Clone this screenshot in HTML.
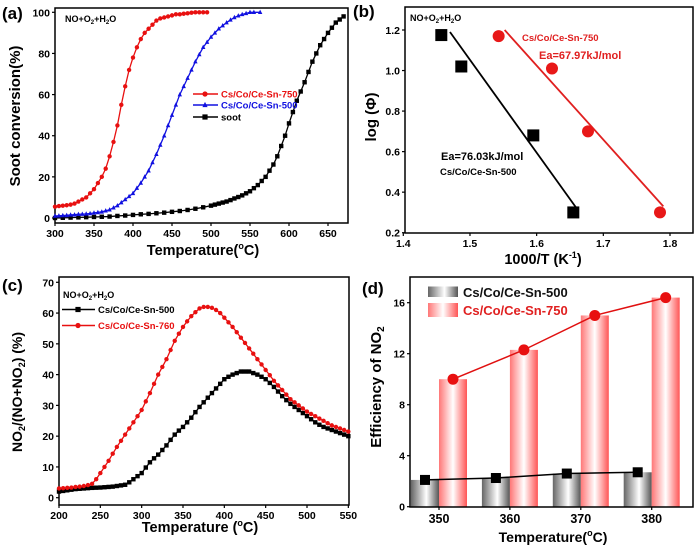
<!DOCTYPE html>
<html><head><meta charset="utf-8"><style>
html,body{margin:0;padding:0;background:#fff;}
svg{display:block;font-family:"Liberation Sans",Arial,sans-serif;font-weight:bold;}
</style></head><body>
<svg id="fig" width="700" height="549" viewBox="0 0 700 549" xmlns="http://www.w3.org/2000/svg">
<defs>
<linearGradient id="gGrey" x1="0" x2="1" y1="0" y2="0">
<stop offset="0" stop-color="#666"/><stop offset="0.55" stop-color="#fff"/><stop offset="1" stop-color="#555"/></linearGradient>
<linearGradient id="gRed" x1="0" x2="1" y1="0" y2="0">
<stop offset="0" stop-color="#f77"/><stop offset="0.5" stop-color="#fff"/><stop offset="1" stop-color="#f55"/></linearGradient>
</defs>
</svg>
<script>
// ---- Panel (a) data ----
const aRedT=[300,305,310,315,320,325,330,335,340,345,350,355,360,365,370,375,380,385,390,395,400,405,410,415,420,425,430,435,440,445,450,455,460,465,470,475,480,485,490,495];
const aRedV=[5.5,5.8,6,6.2,6.5,7,8,9,10,12,14,17,20,24,30,37,45,55,64,72,78,83,87,90,92,94,96,97,97.5,98,98.5,99,99,99.3,99.5,99.8,100,100,100,100];
const aBlueT=[300,305,310,315,320,325,330,335,340,345,350,355,360,365,370,375,380,385,390,395,400,405,410,415,420,425,430,435,440,445,450,455,460,465,470,475,480,485,490,495,500,505,510,515,520,525,530,535,540,545,550,555,563];
const aBlueV=[1,1.1,1.2,1.3,1.5,1.6,1.8,1.9,2,2.2,2.5,2.7,3,3.5,4,5,6,7.5,9,10.5,12,14.5,17,20,23,27,31,35.5,40,45,50,55,60,64,68,72,76,79.5,83,85.5,88,90,92,93.5,95,96.3,97.5,98.3,99,99.5,100,100,100];
const aSootT=[300,310,320,330,340,350,360,370,380,390,400,410,420,430,440,450,460,470,480,490,500,505,510,515,520,525,530,535,540,545,550,555,560,565,570,575,580,585,590,595,600,605,610,615,620,625,630,635,640,645,650,655,660,665,670];
const aSootV=[0,0.1,0.2,0.3,0.4,0.5,0.6,0.7,1,1.2,1.5,1.8,2,2.3,2.6,3,3.4,3.9,4.5,5.2,6,6.5,7,7.5,8,8.7,9.5,10.2,11,12,13,14.5,16,18,20,23,26,30,35,40,46,51.5,57,61.5,66,71,76,80,84,87,90,92.5,95,96.5,98];
const aXTicks=[300,350,400,450,500,550,600,650];
const aYTicks=[0,20,40,60,80,100];
// ---- Panel (b) data ----
const b500X=[1.457,1.487,1.595,1.655];
const b500Y=[1.175,1.02,0.68,0.30];
const b750X=[1.543,1.623,1.677,1.785];
const b750Y=[1.17,1.01,0.70,0.30];
const b500Fit=[[1.47,1.19],[1.66,0.32]];
const b750Fit=[[1.552,1.2],[1.79,0.33]];
const bXTicks=[1.4,1.5,1.6,1.7,1.8];
const bYTicks=[0.2,0.4,0.6,0.8,1.0,1.2];
// ---- Panel (c) data ----
const cT=[200,205,210,215,220,225,230,235,240,245,250,255,260,265,270,275,280,285,290,295,300,305,310,315,320,325,330,335,340,345,350,355,360,365,370,375,380,385,390,395,400,405,410,415,420,425,430,435,440,445,450,455,460,465,470,475,480,485,490,495,500,505,510,515,520,525,530,535,540,545,550];
const c500=[2,2.2,2.4,2.6,2.8,2.9,3,3.1,3.2,3.25,3.3,3.4,3.5,3.6,3.8,4,4.2,5,6,7,8,9.8,11.5,12.8,14,15.5,17,18.8,20.5,21.8,23,24.5,26,27.8,29.5,31,32.5,34,35.5,37,38.5,39.3,40,40.5,41,41,41,40.5,40,39.3,38.5,37.3,36,34.5,33,31.7,30.5,29.5,28.5,27.5,26.5,25.5,24.5,23.7,23,22.5,22,21.5,21,20.5,20];
const c750=[3,3.1,3.2,3.3,3.5,3.6,3.8,4.1,4.5,6,8,10,12,14.3,16.5,18.5,20.5,22.5,24.5,26.5,28.5,31.3,34,37,40,42.5,45,48,51,53.3,55.5,57.3,59,60.3,61.5,62,62,61.7,61,60,58.5,57,55.5,53.8,52,50.3,48.5,46.8,45,43.3,41.5,39.8,38,36.5,35,33.5,32,31,30,29,28,27.2,26.5,25.7,25,24.2,23.5,23,22.5,22,21.5];
const cXTicks=[200,250,300,350,400,450,500,550];
const cYTicks=[0,10,20,30,40,50,60,70];
// ---- Panel (d) data ----
const dCats=[350,360,370,380];
const d500=[2.1,2.25,2.6,2.7];
const d750=[10,12.3,15,16.4];
const dYTicks=[0,4,8,12,16];

const NS="http://www.w3.org/2000/svg";
const svg=document.getElementById('fig');
function mk(tag,attrs,parent,text){const e=document.createElementNS(NS,tag);for(const k in attrs)e.setAttribute(k,attrs[k]);if(text!==undefined)e.textContent=text;(parent||svg).appendChild(e);return e;}
function lin(d0,d1,r0,r1){return v=>r0+(v-d0)*(r1-r0)/(d1-d0);}

function frame(g,L,T,R,B){
  const f=mk('rect',{x:L,y:T,width:R-L,height:B-T,fill:'none',stroke:'#000','stroke-width':1.5},g);
  
  
}
function xTicks(g,ticks,sx,B,fmt){
  ticks.forEach(t=>{
    mk('line',{x1:sx(t),x2:sx(t),y1:B,y2:B+3,stroke:'#000','stroke-width':1.2},g);
    const tx=mk('text',{x:sx(t),y:B+14,'font-size':10.5,'text-anchor':'middle'},g,fmt?fmt(t):t);
    
    
  });
}
function yTicks(g,ticks,sy,L,fmt){
  ticks.forEach(t=>{
    mk('line',{x1:L-3,x2:L,y1:sy(t),y2:sy(t),stroke:'#000','stroke-width':1.2},g);
    const tx=mk('text',{x:L-5,y:sy(t)+4,'font-size':10.5,'text-anchor':'end'},g,fmt?fmt(t):t);
    
    
  });
}
function polyline(g,xs,ys,sx,sy,color,w){
  const pts=xs.map((x,i)=>sx(x)+','+sy(ys[i])).join(' ');
  return mk('polyline',{points:pts,fill:'none',stroke:color,'stroke-width':w||1.3},g);
}
function marker(g,type,x,y,color,s){
  let m;
  if(type==='circle') m=mk('circle',{cx:x,cy:y,r:s,fill:color},g);
  else if(type==='square') m=mk('rect',{x:x-s,y:y-s,width:2*s,height:2*s,fill:color},g);
  else m=mk('polygon',{points:`${x},${y-s*1.2} ${x-s},${y+s*0.8} ${x+s},${y+s*0.8}`,fill:color},g);
  return m;
}
function rotTitle(g,x,y,txt,size){
  return mk('text',{x:x,y:y,'font-size':size,'text-anchor':'middle',transform:`rotate(-90 ${x} ${y})`},g,txt);
}

// ===== Panel A =====
(function(){
  const g=mk('g',{});
  
  
  const L=55,R=348,T=8,B=223;
  const sx=lin(300,650,55,328), sy=lin(0,100,218,12.3);
  frame(g,L,T,R,B);
  xTicks(g,aXTicks,sx,B); yTicks(g,aYTicks,sy,L);
  const ser=[[aSootT,aSootV,'#000','square','soot-series'],[aBlueT,aBlueV,'#1010e0','tri','cs-co-ce-sn-500-series'],[aRedT,aRedV,'#e81010','circle','cs-co-ce-sn-750-series']];
  ser.forEach(s=>{
    const sg=mk('g',{},g);
    
    
    polyline(sg,s[0],s[1],sx,sy,s[2],1.3);
    s[0].forEach((t,i)=>marker(sg,s[3],sx(t),sy(s[1][i]),s[2],2.2));
  });
  const lt=mk('text',{x:65,y:22,'font-size':9},g);
  lt.innerHTML='NO+O<tspan font-size="6" dy="2">2</tspan><tspan dy="-2">+H</tspan><tspan font-size="6" dy="2">2</tspan><tspan dy="-2">O</tspan>';
  
  
  const leg=[['Cs/Co/Ce-Sn-750','#e81010','circle',94],['Cs/Co/Ce-Sn-500','#1010e0','tri',105],['soot','#000','square',117]];
  leg.forEach(l=>{
    const lg=mk('g',{},g);
    
    
    mk('line',{x1:193,x2:218,y1:l[3],y2:l[3],stroke:l[1],'stroke-width':1.5},lg);
    marker(lg,l[2],205,l[3],l[1],2.6);
    mk('text',{x:221,y:l[3]+3.5,'font-size':9.5,fill:l[1]},lg,l[0]);
  });
  const yt=rotTitle(g,20,116,'Soot conversion(%)',15);
  
  
  const xt=mk('text',{x:203,y:255,'font-size':14.5,'text-anchor':'middle'},g);
  xt.innerHTML='Temperature(<tspan font-size="9" dy="-6">o</tspan><tspan dy="6">C)</tspan>';
  
  
  const pl=mk('text',{x:2,y:19,'font-size':17},g,'(a)');
  
  
})();

// ===== Panel B =====
(function(){
  const g=mk('g',{});
  
  
  const L=405,R=693,T=7,B=233;
  const sx=lin(1.4,1.8,403.3,670), sy=lin(0.2,1.2,232.7,30);
  frame(g,L,T,R,B);
  xTicks(g,bXTicks,sx,B,t=>t.toFixed(1)); yTicks(g,bYTicks,sy,L,t=>t.toFixed(1));
  const f1=mk('line',{x1:sx(b500Fit[0][0]),y1:sy(b500Fit[0][1]),x2:sx(b500Fit[1][0]),y2:sy(b500Fit[1][1]),stroke:'#000','stroke-width':1.8},g);
  
  
  const f2=mk('line',{x1:sx(b750Fit[0][0]),y1:sy(b750Fit[0][1]),x2:sx(b750Fit[1][0]),y2:sy(b750Fit[1][1]),stroke:'#e02020','stroke-width':1.8},g);
  
  
  b500X.forEach((x,i)=>{const m=marker(g,'square',sx(x),sy(b500Y[i]),'#000',6);
    
    });
  b750X.forEach((x,i)=>{const m=marker(g,'circle',sx(x),sy(b750Y[i]),'#e81818',6);
    
    });
  const lt=mk('text',{x:410,y:21,'font-size':9},g);
  lt.innerHTML='NO+O<tspan font-size="6" dy="2">2</tspan><tspan dy="-2">+H</tspan><tspan font-size="6" dy="2">2</tspan><tspan dy="-2">O</tspan>';
  
  
  const a1=mk('text',{x:522,y:41,'font-size':9.5,fill:'#e02020'},g,'Cs/Co/Ce-Sn-750');
  
  
  const a2=mk('text',{x:539,y:59,'font-size':11,fill:'#e02020'},g,'Ea=67.97kJ/mol');
  
  
  const a3=mk('text',{x:441,y:160,'font-size':11,fill:'#000'},g,'Ea=76.03kJ/mol');
  
  
  const a4=mk('text',{x:440,y:175,'font-size':9.5,fill:'#000'},g,'Cs/Co/Ce-Sn-500');
  
  
  const yt=rotTitle(g,376,117,'log (Φ)',15);
  
  
  const xt=mk('text',{x:543,y:264,'font-size':14.5,'text-anchor':'middle'},g);
  xt.innerHTML='1000/T (K<tspan font-size="9" dy="-6">-1</tspan><tspan dy="6">)</tspan>';
  
  
  const pl=mk('text',{x:353,y:17,'font-size':17},g,'(b)');
  
  
})();

// ===== Panel C =====
(function(){
  const g=mk('g',{});
  
  
  const L=59,R=349,T=277,B=505;
  const sx=lin(200,500,59,307), sy=lin(0,70,497.7,282.3);
  frame(g,L,T,R,B);
  xTicks(g,cXTicks,sx,B); yTicks(g,cYTicks,sy,L);
  const ser=[[c500,'#000','square','cs-co-ce-sn-500-series'],[c750,'#e81010','circle','cs-co-ce-sn-750-series']];
  ser.forEach(s=>{
    const sg=mk('g',{},g);
    
    
    polyline(sg,cT,s[0],sx,sy,s[1],1.3);
    cT.forEach((t,i)=>marker(sg,s[2],sx(t),sy(s[0][i]),s[1],2.2));
  });
  const lt=mk('text',{x:63,y:298,'font-size':9},g);
  lt.innerHTML='NO+O<tspan font-size="6" dy="2">2</tspan><tspan dy="-2">+H</tspan><tspan font-size="6" dy="2">2</tspan><tspan dy="-2">O</tspan>';
  
  
  const leg=[['Cs/Co/Ce-Sn-500','#000','square',309.5],['Cs/Co/Ce-Sn-760','#e81010','circle',325.5]];
  leg.forEach(l=>{
    const lg=mk('g',{},g);
    
    
    mk('line',{x1:62,x2:95,y1:l[3],y2:l[3],stroke:l[1],'stroke-width':1.5},lg);
    marker(lg,l[2],78,l[3],l[1],2.6);
    mk('text',{x:98,y:l[3]+3.5,'font-size':9.5,fill:l[1]},lg,l[0]);
  });
  const yt=mk('text',{x:22,y:392,'font-size':14,'text-anchor':'middle',transform:'rotate(-90 22 392)'},g);
  yt.innerHTML='NO<tspan font-size="9" dy="3">2</tspan><tspan dy="-3">/(NO+NO</tspan><tspan font-size="9" dy="3">2</tspan><tspan dy="-3">) (%)</tspan>';
  
  
  const xt=mk('text',{x:200,y:532,'font-size':14.5,'text-anchor':'middle'},g);
  xt.innerHTML='Temperature (<tspan font-size="9" dy="-6">o</tspan><tspan dy="6">C)</tspan>';
  
  
  const pl=mk('text',{x:2,y:291,'font-size':17},g,'(c)');
  
  
})();

// ===== Panel D =====
(function(){
  const g=mk('g',{});
  
  
  const L=410,R=693,T=277,B=507;
  const sx=lin(350,380,439,651.7), sy=lin(0,16,506.7,302.7);
  const bw=28;
  dCats.forEach((c,i)=>{
    const r1=mk('rect',{x:sx(c)-bw,y:sy(d500[i]),width:bw,height:sy(0)-sy(d500[i]),fill:'url(#gGrey)'},g);
    
    
    const r2=mk('rect',{x:sx(c),y:sy(d750[i]),width:bw,height:sy(0)-sy(d750[i]),fill:'url(#gRed)'},g);
    
    
  });
  const off=bw/2;
  polyline(g,dCats.map(c=>c),d500,c=>sx(c)-off,sy,'#000',1.5);
  polyline(g,dCats.map(c=>c),d750,c=>sx(c)+off,sy,'#e01010',1.5);
  dCats.forEach((c,i)=>{
    const m1=marker(g,'square',sx(c)-off,sy(d500[i]),'#000',5);
    
    
    const m2=marker(g,'circle',sx(c)+off,sy(d750[i]),'#e81010',5.5);
    
    
  });
  frame(g,L,T,R,B);
  dCats.forEach(c=>{
    mk('line',{x1:sx(c),x2:sx(c),y1:B,y2:B+3,stroke:'#000','stroke-width':1.2},g);
    const tx=mk('text',{x:sx(c),y:B+16,'font-size':12.5,'text-anchor':'middle'},g,c);
    
    
  });
  yTicks(g,dYTicks,sy,L);
  const l1=mk('g',{},g);
  
  
  mk('rect',{x:428,y:286.5,width:30,height:10.5,fill:'url(#gGrey)'},l1);
  mk('text',{x:463,y:297,'font-size':13,fill:'#111'},l1,'Cs/Co/Ce-Sn-500');
  const l2=mk('g',{},g);
  
  
  mk('rect',{x:428,y:303,width:30,height:14,fill:'url(#gRed)'},l2);
  mk('text',{x:463,y:315,'font-size':13,fill:'#e02020'},l2,'Cs/Co/Ce-Sn-750');
  const yt=mk('text',{x:381,y:387,'font-size':15,'text-anchor':'middle',transform:'rotate(-90 381 387)'},g);
  yt.innerHTML='Efficiency of NO<tspan font-size="10" dy="3">2</tspan>';
  
  
  const xt=mk('text',{x:553,y:542,'font-size':14,'text-anchor':'middle'},g);
  xt.innerHTML='Temperature(<tspan font-size="9" dy="-6">o</tspan><tspan dy="6">C)</tspan>';
  
  
  const pl=mk('text',{x:362,y:294,'font-size':17},g,'(d)');
  
  
})();
</script>
</body></html>
